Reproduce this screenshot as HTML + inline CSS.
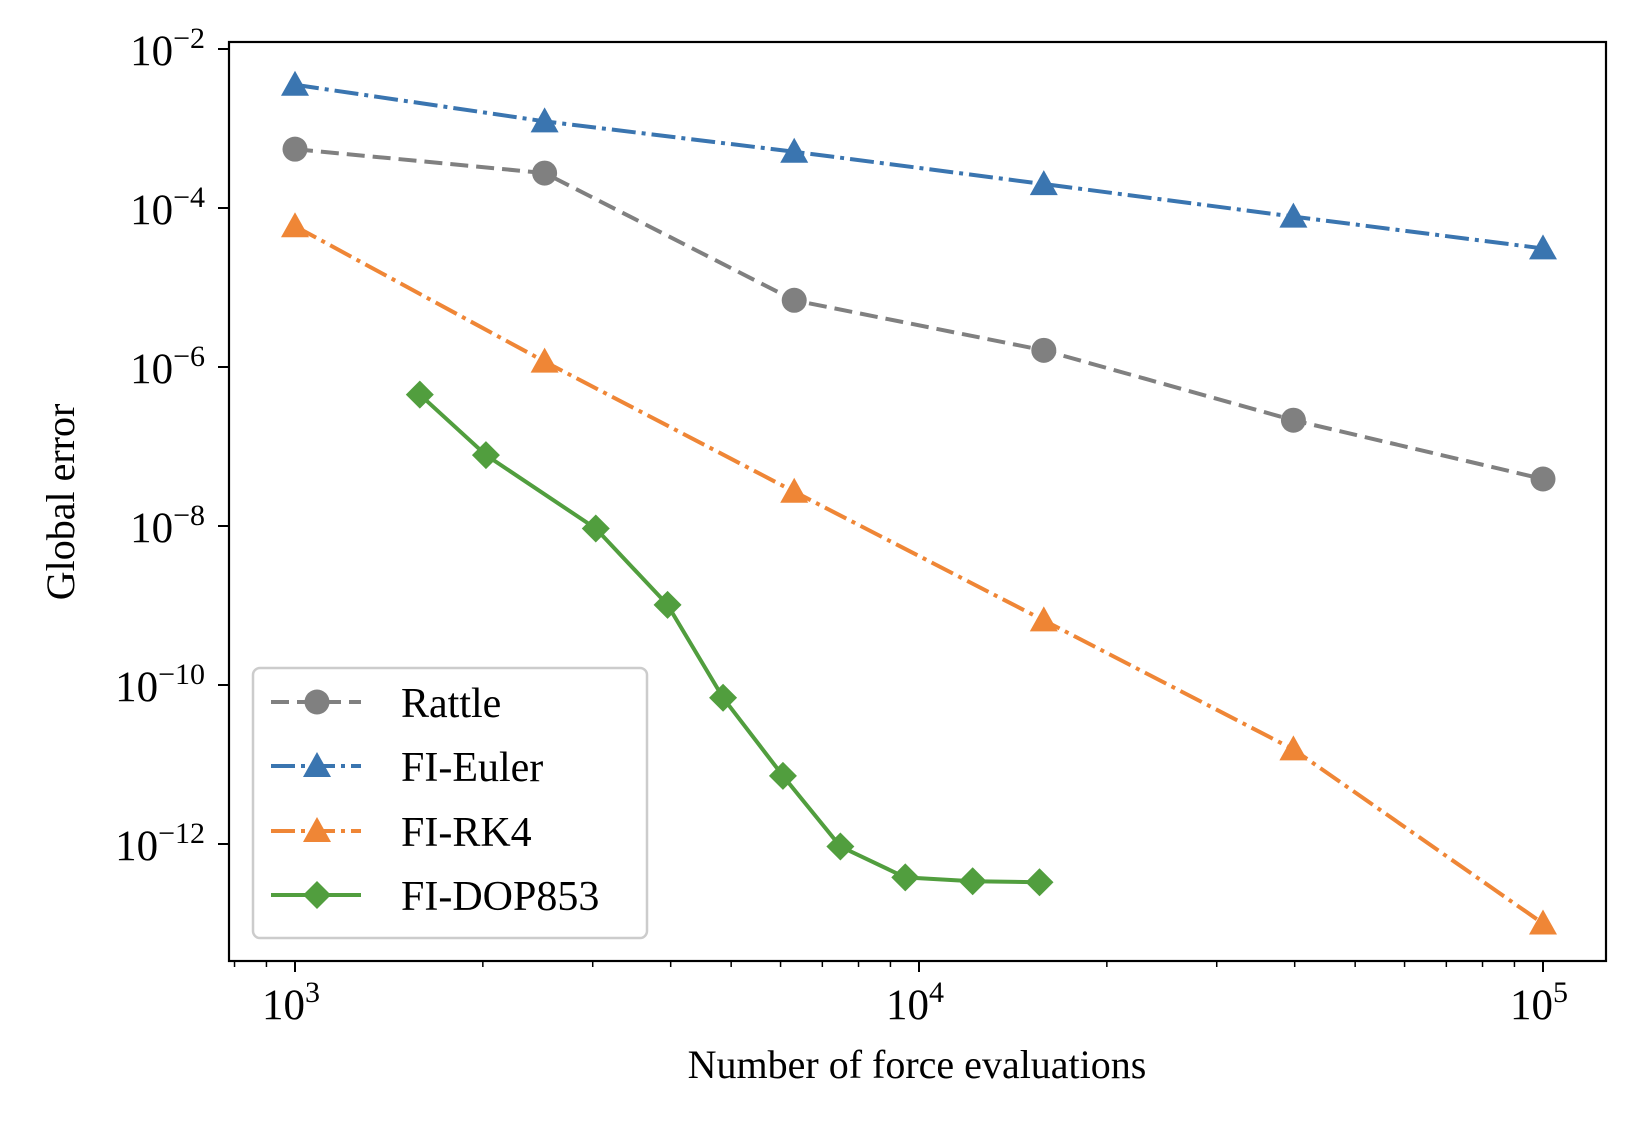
<!DOCTYPE html>
<html><head><meta charset="utf-8"><style>
html,body{margin:0;padding:0;background:#fff}
svg{display:block}
text{font-family:"Liberation Serif","DejaVu Serif",serif;fill:#000}
</style></head><body>
<svg id="chart" width="1644" height="1124" viewBox="0 0 1644 1124"></svg>
<script>
const seriesNames = ["Rattle","FI-Euler","FI-RK4","FI-DOP853"];
const xRattle = [1000,2512,6310,15849,39811,100000];
const yRattle = [5.5e-4,2.75e-4,6.9e-6,1.62e-6,2.14e-7,3.9e-8];
const xEuler = [1000,2512,6310,15849,39811,100000];
const yEuler = [3.55e-3,1.23e-3,5.1e-4,2.0e-4,7.8e-5,3.1e-5];
const xRK4 = [1000,2512,6310,15849,39811,100000];
const yRK4 = [5.9e-5,1.17e-6,2.7e-8,6.5e-10,1.55e-11,1.0e-13];
const xDOP = [1585,2023,3034,3954,4853,6053,7482,9506,12190,15600];
const yDOP = [4.5e-7,7.8e-8,9.3e-9,1.02e-9,6.9e-11,7.2e-12,9.3e-13,3.8e-13,3.4e-13,3.3e-13];
const xTicks = [3,4,5];
const yTicks = [-2,-4,-6,-8,-10,-12];

const NS="http://www.w3.org/2000/svg";
const svg=document.getElementById('chart');
const L=229,R=1606,T=42,B=961;
const X=v=>295+(Math.log10(v)-3)*624;
const Y=v=>49+(-2-Math.log10(v))*79.5;
function mk(tag,attrs,parent){const e=document.createElementNS(NS,tag);for(const k in attrs)e.setAttribute(k,attrs[k]);(parent||svg).appendChild(e);return e;}

const frame=mk('rect',{x:L,y:T,width:R-L,height:B-T,fill:'none',stroke:'#000','stroke-width':2.2});



for(let d=2;d<=5;d++){for(let m=1;m<10;m++){const v=m*Math.pow(10,d);const lv=Math.log10(v);if(lv<2.894||lv>5.101)continue;const x=X(v);const major=m===1;
 const t=mk('line',{x1:x,x2:x,y1:B,y2:B+(major?11:6),stroke:'#000','stroke-width':major?2:1.5});
 
 }}
xTicks.forEach(p=>{const g=mk('text',{x:X(Math.pow(10,p))-4,y:1019,'font-size':43,'text-anchor':'middle'});
 
 
 g.innerHTML='10<tspan dy="-17" font-size="30">'+p+'</tspan>';});
yTicks.forEach(p=>{const y=Y(Math.pow(10,p));
 const t=mk('line',{x1:L-11,x2:L,y1:y,y2:y,stroke:'#000','stroke-width':2});
 
 
 const g=mk('text',{x:205,y:y+16,'font-size':43,'text-anchor':'end'});
 
 
 g.innerHTML='10<tspan dy="-17" font-size="30">\u2212'+(-p)+'</tspan>';});

const xl=mk('text',{x:917,y:1078,'font-size':40,'text-anchor':'middle'});xl.textContent='Number of force evaluations';


const yl=mk('text',{x:0,y:0,'font-size':40,'text-anchor':'middle',transform:'translate(74,502) rotate(-90)'});yl.textContent='Global error';



function marker(type,x,y,color,parent){
 if(type==='o')return mk('circle',{cx:x,cy:y,r:12.5,fill:color},parent);
 if(type==='^')return mk('polygon',{points:`${x},${y-14} ${x-14},${y+11} ${x+14},${y+11}`,fill:color},parent);
 return mk('polygon',{points:`${x},${y-14} ${x+14},${y} ${x},${y+14} ${x-14},${y}`,fill:color},parent);}

const series=[
 {name:'rattle',xs:xRattle,ys:yRattle,c:'#808080',dash:'18,8',m:'o'},
 {name:'fi-euler',xs:xEuler,ys:yEuler,c:'#3a75b0',dash:'24,6,4,6',m:'^'},
 {name:'fi-rk4',xs:xRK4,ys:yRK4,c:'#ef8636',dash:'24,6,4,6',m:'^'},
 {name:'fi-dop853',xs:xDOP,ys:yDOP,c:'#519e3e',dash:'none',m:'d'}];
series.forEach(s=>{const g=mk('g',{});
 
 
 const pts=s.xs.map((v,i)=>X(v)+','+Y(s.ys[i])).join(' ');
 const pl=mk('polyline',{points:pts,fill:'none',stroke:s.c,'stroke-width':4,'stroke-dasharray':s.dash},g);
 
 
 s.xs.forEach((v,i)=>{const mm=marker(s.m,X(v),Y(s.ys[i]),s.c,g);
  
  });});

const lg=mk('g',{});


mk('rect',{x:253,y:668,width:394,height:270,rx:7,fill:'#fff','fill-opacity':0.85,stroke:'#ccc','stroke-width':2.5},lg);
const ly=[702,766,831,895];
series.forEach((s,i)=>{const e=mk('g',{},lg);
 
 
 mk('line',{x1:271,x2:361,y1:ly[i],y2:ly[i],stroke:s.c,'stroke-width':4,'stroke-dasharray':s.dash},e);
 marker(s.m,317,ly[i],s.c,e);
 const t=mk('text',{x:401,y:ly[i]+15,'font-size':42},e);t.textContent=seriesNames[i];});
</script>
</body></html>
